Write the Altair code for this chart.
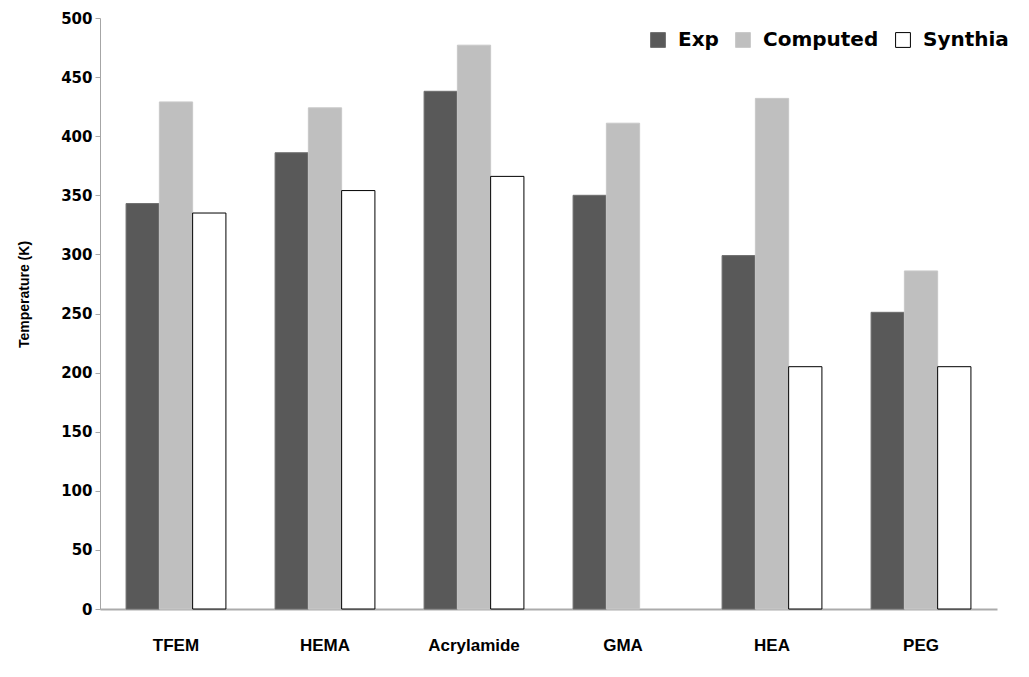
import altair as alt
import pandas as pd

categories = ["TFEM", "HEMA", "Acrylamide", "GMA", "HEA", "PEG"]
series_names = ["Exp", "Computed", "Synthia"]
exp_vals = [343, 386, 438, 350, 299, 251]
computed_vals = [429, 424, 477, 411, 432, 286]
synthia_vals = [335, 354, 366, None, 205, 205]

rows = []
for i, c in enumerate(categories):
    for s, vals in zip(series_names, [exp_vals, computed_vals, synthia_vals]):
        v = vals[i]
        if v is not None:
            rows.append({"Monomer": c, "Series": s, "Temperature": v})
df = pd.DataFrame(rows)

fill_range = ["#595959", "#BFBFBF", "#FFFFFF"]
stroke_range = ["#6E6E6E", "#C8C8C8", "#000000"]

chart = alt.Chart(df).mark_bar(strokeWidth=1).encode(
    x=alt.X(
        "Monomer:N",
        sort=categories,
        title=None,
        scale=alt.Scale(paddingInner=0.33, paddingOuter=0.175),
        axis=alt.Axis(
            labelAngle=0,
            labelFont="Liberation Sans",
            labelFontWeight="bold",
            labelFontSize=17,
            labelColor="#000000",
            labelPadding=28,
            ticks=False,
            domainColor="#ABABAB",
            domainWidth=2,
        ),
    ),
    xOffset=alt.XOffset(
        "Series:N", sort=series_names, scale=alt.Scale(paddingInner=0, paddingOuter=0)
    ),
    y=alt.Y(
        "Temperature:Q",
        title="Temperature (K)",
        scale=alt.Scale(domain=[0, 500], nice=False),
        axis=alt.Axis(
            values=list(range(0, 501, 50)),
            grid=False,
            labelFont="DejaVu Sans",
            labelFontWeight="bold",
            labelFontSize=15,
            labelColor="#000000",
            labelPadding=3,
            tickSize=5,
            tickColor="#A6A6A6",
            domainColor="#A6A6A6",
            titleFont="Liberation Sans",
            titleFontWeight="bold",
            titleFontSize=14,
            titleColor="#000000",
            titleAngle=-90,
            titleAlign="center",
            titleBaseline="middle",
            titleX=-76,
            titleY=276,
        ),
    ),
    color=alt.Color(
        "Series:N",
        sort=series_names,
        scale=alt.Scale(domain=series_names, range=fill_range),
        legend=alt.Legend(
            title=None,
            orient="none",
            direction="horizontal",
            legendX=548,
            legendY=12,
            symbolType="square",
            symbolSize=220,
            symbolStrokeWidth=1,
            labelFont="DejaVu Sans",
            labelFontWeight="bold",
            labelFontSize=20,
            labelColor="#000000",
            labelOffset=10,
            columnPadding=14,
            labelExpr="datum.label == 'Computed' ? 'Computed\u2003' : datum.label",
        ),
    ),
    stroke=alt.Stroke(
        "Series:N",
        sort=series_names,
        scale=alt.Scale(domain=series_names, range=stroke_range),
        legend=None,
    ),
).properties(
    width=897,
    height=591,
    autosize=alt.AutoSizeParams(type="none"),
    padding={"left": 92, "top": 10, "right": 20, "bottom": 50},
).configure_view(stroke=None)

chart.save("out.html", embed_options={"renderer": "svg", "actions": False})
